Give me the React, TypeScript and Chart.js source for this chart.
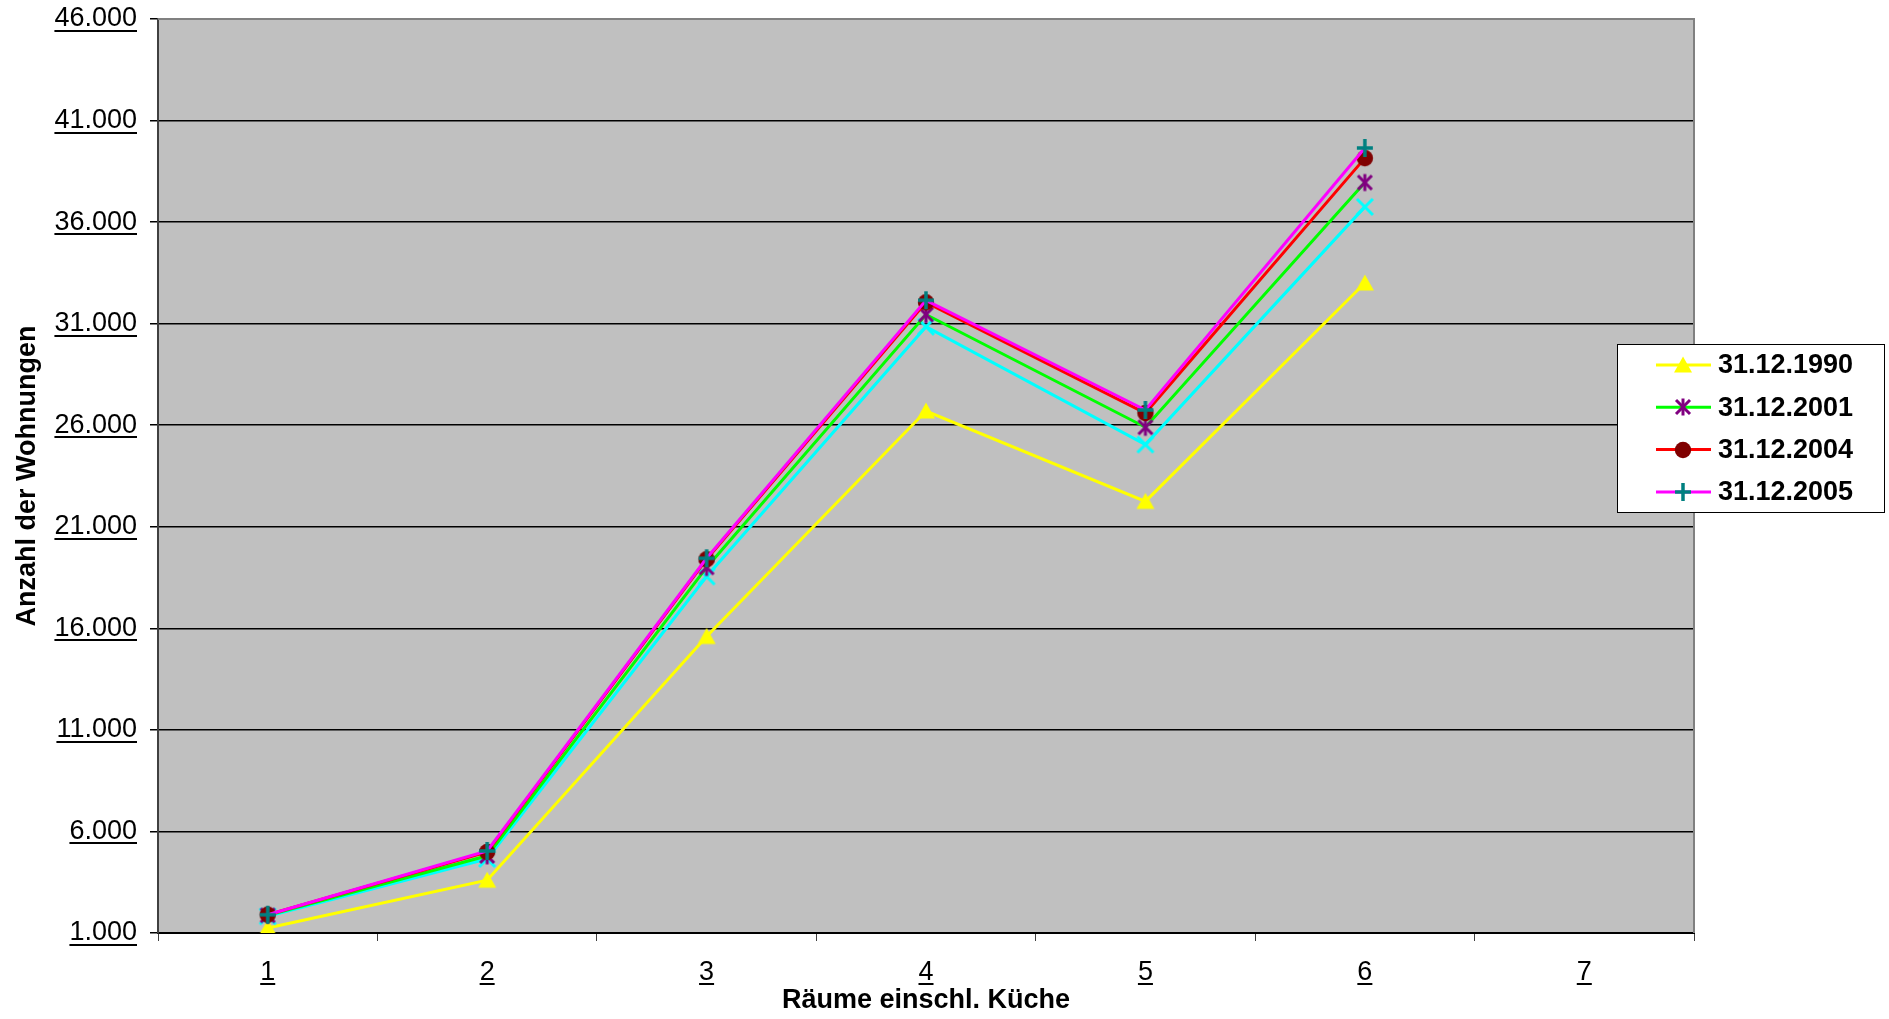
import React, { useEffect, useRef } from 'react';
import { Chart, registerables } from 'chart.js';

Chart.register(...registerables);

// ---- data ----
const categories = ['1', '2', '3', '4', '5', '6', '7'];
const series1990 = [1250, 3600, 15600, 26700, 22250, 33000, null];
const seriesUnlisted = [1820, 4650, 18550, 30850, 25050, 36750, null];
const series2001 = [1870, 4800, 19000, 31450, 25900, 37950, null];
const series2004 = [1900, 4990, 19400, 32050, 26600, 39150, null];
const series2005 = [1900, 5040, 19450, 32150, 26750, 39650, null];
const legendLabels = ['31.12.1990', '31.12.2001', '31.12.2004', '31.12.2005'];
const yMin = 1000;
const yMax = 46000;
const yStep = 5000;
const xTitle = 'Räume einschl. Küche';
const yTitle = 'Anzahl der Wohnungen';

const FONT = '"Liberation Sans", Arial, sans-serif';
const FS = 27;
const W = 1889;
const H = 1019;

function fmt(v: number): string {
  const s = String(Math.round(v));
  return s.replace(/\B(?=(\d{3})+(?!\d))/g, '.');
}

function makeMarker(kind: string, color: string): HTMLCanvasElement {
  const s = 24;
  const c = document.createElement('canvas');
  c.width = s;
  c.height = s;
  const g = c.getContext('2d')!;
  const m = s / 2;
  g.strokeStyle = color;
  g.fillStyle = color;
  const line = (x1: number, y1: number, x2: number, y2: number) => {
    g.beginPath();
    g.moveTo(x1, y1);
    g.lineTo(x2, y2);
    g.stroke();
  };
  if (kind === 'triangle') {
    g.beginPath();
    g.moveTo(m, m - 8.5);
    g.lineTo(m + 9, m + 7.5);
    g.lineTo(m - 9, m + 7.5);
    g.closePath();
    g.fill();
  } else if (kind === 'circle') {
    g.beginPath();
    g.arc(m, m, 8.2, 0, Math.PI * 2);
    g.fill();
  } else if (kind === 'x') {
    g.lineWidth = 3;
    line(m - 8, m - 8, m + 8, m + 8);
    line(m - 8, m + 8, m + 8, m - 8);
  } else if (kind === 'star') {
    g.lineWidth = 3;
    line(m - 7, m - 7, m + 7, m + 7);
    line(m - 7, m + 7, m + 7, m - 7);
    line(m, m - 8.5, m, m + 8.5);
  } else if (kind === 'plus') {
    g.lineWidth = 3.5;
    line(m - 8, m, m + 8, m);
    line(m, m - 9, m, m + 9);
  }
  return c;
}

export default function App() {
  const ref = useRef<HTMLCanvasElement | null>(null);

  useEffect(() => {
    if (!ref.current) return;
    const mTri = makeMarker('triangle', '#FFFF00');
    const mX = makeMarker('x', '#00FFFF');
    const mStar = makeMarker('star', '#800080');
    const mCircle = makeMarker('circle', '#800000');
    const mPlus = makeMarker('plus', '#008080');

    const legendEntries = [
      { label: legendLabels[0], color: '#FFFF00', marker: mTri },
      { label: legendLabels[1], color: '#00FF00', marker: mStar },
      { label: legendLabels[2], color: '#FF0000', marker: mCircle },
      { label: legendLabels[3], color: '#FF00FF', marker: mPlus },
    ];

    const bgPlugin = {
      id: 'plotBg',
      beforeDraw(chart: any) {
        const { ctx, chartArea } = chart;
        ctx.save();
        ctx.fillStyle = '#FFFFFF';
        ctx.fillRect(0, 0, chart.width, chart.height);
        ctx.fillStyle = '#C0C0C0';
        ctx.fillRect(chartArea.left, chartArea.top, chartArea.right - chartArea.left, chartArea.bottom - chartArea.top);
        ctx.restore();
      },
      beforeDatasetsDraw(chart: any) {
        const { ctx, chartArea } = chart;
        ctx.save();
        ctx.strokeStyle = '#808080';
        ctx.lineWidth = 2;
        ctx.beginPath();
        ctx.moveTo(chartArea.left, chartArea.top);
        ctx.lineTo(chartArea.right, chartArea.top);
        ctx.lineTo(chartArea.right, chartArea.bottom);
        ctx.stroke();
        ctx.restore();
      },
    };

    const decoPlugin = {
      id: 'deco',
      afterDraw(chart: any) {
        const { ctx, chartArea } = chart;
        ctx.save();
        // underline tick labels
        ctx.font = FS + 'px ' + FONT;
        ctx.fillStyle = '#000';
        const ys = chart.scales.y;
        ys.ticks.forEach((t: any, i: number) => {
          const py = ys.getPixelForTick(i);
          const label = String(t.label);
          const w = ctx.measureText(label).width;
          const right = chartArea.left - 8 - 13;
          ctx.fillRect(right - w, Math.round(py + 11), w, 2);
        });
        const xs = chart.scales.x;
        xs.ticks.forEach((t: any, i: number) => {
          const px = xs.getPixelForTick(i);
          const label = String(t.label);
          const w = ctx.measureText(label).width;
          ctx.fillRect(px - w / 2, Math.round(chartArea.bottom + 50), w, 2);
        });

        // legend box
        const x0 = chart.width - 272;
        const y0 = 344;
        const bw = 267;
        const bh = 168;
        ctx.fillStyle = '#FFFFFF';
        ctx.fillRect(x0, y0, bw, bh);
        ctx.strokeStyle = '#000';
        ctx.lineWidth = 1;
        ctx.strokeRect(x0 + 0.5, y0 + 0.5, bw, bh);
        ctx.font = 'bold ' + FS + 'px ' + FONT;
        ctx.textBaseline = 'middle';
        ctx.textAlign = 'left';
        legendEntries.forEach((e, i) => {
          const y = y0 + 21 + i * 42.3;
          ctx.strokeStyle = e.color;
          ctx.lineWidth = 3;
          ctx.beginPath();
          ctx.moveTo(x0 + 39, y);
          ctx.lineTo(x0 + 94, y);
          ctx.stroke();
          ctx.drawImage(e.marker, Math.round(x0 + 66 - 12), Math.round(y - 12));
          ctx.fillStyle = '#000';
          ctx.fillText(e.label, x0 + 101, y + 1);
        });
        ctx.restore();
      },
    };

    const chart = new Chart(ref.current, {
      type: 'line',
      data: {
        labels: categories,
        datasets: [
          { label: legendLabels[0], data: series1990, borderColor: '#FFFF00', backgroundColor: '#FFFF00', pointStyle: mTri as any, order: 4 },
          { label: 'unlisted', data: seriesUnlisted, borderColor: '#00FFFF', backgroundColor: '#00FFFF', pointStyle: mX as any, order: 3 },
          { label: legendLabels[1], data: series2001, borderColor: '#00FF00', backgroundColor: '#00FF00', pointStyle: mStar as any, order: 2 },
          { label: legendLabels[2], data: series2004, borderColor: '#FF0000', backgroundColor: '#FF0000', pointStyle: mCircle as any, order: 1 },
          { label: legendLabels[3], data: series2005, borderColor: '#FF00FF', backgroundColor: '#FF00FF', pointStyle: mPlus as any, order: 0 },
        ].map((d) => ({ ...d, borderWidth: 3, pointRadius: 8, tension: 0, fill: false, spanGaps: false })),
      },
      options: {
        animation: false,
        responsive: false,
        maintainAspectRatio: false,
        devicePixelRatio: 1,
        layout: { padding: { top: 19, right: W - 1694, bottom: 0, left: 0 } },
        plugins: {
          legend: { display: false },
          tooltip: { enabled: false },
        },
        scales: {
          x: {
            type: 'category',
            offset: true,
            grid: {
              offset: true,
              drawOnChartArea: false,
              drawTicks: true,
              tickLength: 8,
              tickColor: '#404040',
              tickWidth: 1,
            },
            border: { color: '#000', width: 2 },
            ticks: {
              color: '#000',
              font: { family: FONT, size: FS },
              padding: 15,
              maxRotation: 0,
              autoSkip: false,
            },
            title: {
              display: true,
              text: xTitle,
              color: '#000',
              font: { family: FONT, size: FS, weight: 'bold' },
              padding: { top: 0, bottom: 2 },
            },
            afterFit: (s: any) => {
              s.height = H - 933;
              s.paddingLeft = 0;
              s.paddingRight = 0;
            },
          },
          y: {
            type: 'linear',
            min: yMin,
            max: yMax,
            grid: {
              color: '#000',
              lineWidth: 1.5,
              drawTicks: true,
              tickLength: 8,
              tickColor: '#000',
            },
            border: { color: '#404040', width: 2 },
            ticks: {
              stepSize: yStep,
              color: '#000',
              font: { family: FONT, size: FS },
              padding: 13,
              callback: (v: any) => fmt(Number(v)),
            },
            title: {
              display: true,
              text: yTitle,
              color: '#000',
              font: { family: FONT, size: FS, weight: 'bold' },
              padding: { top: 11, bottom: 0 },
            },
            afterFit: (s: any) => {
              s.width = 158;
              s.paddingTop = 0;
              s.paddingBottom = 0;
            },
          },
        },
      },
      plugins: [bgPlugin, decoPlugin],
    } as any);

    return () => chart.destroy();
  }, []);

  return (
    <div style={{ position: 'absolute', left: 0, top: 0, width: W, height: H, background: '#fff' }}>
      <canvas ref={ref} width={W} height={H} style={{ display: 'block', width: W, height: H }} />
    </div>
  );
}
